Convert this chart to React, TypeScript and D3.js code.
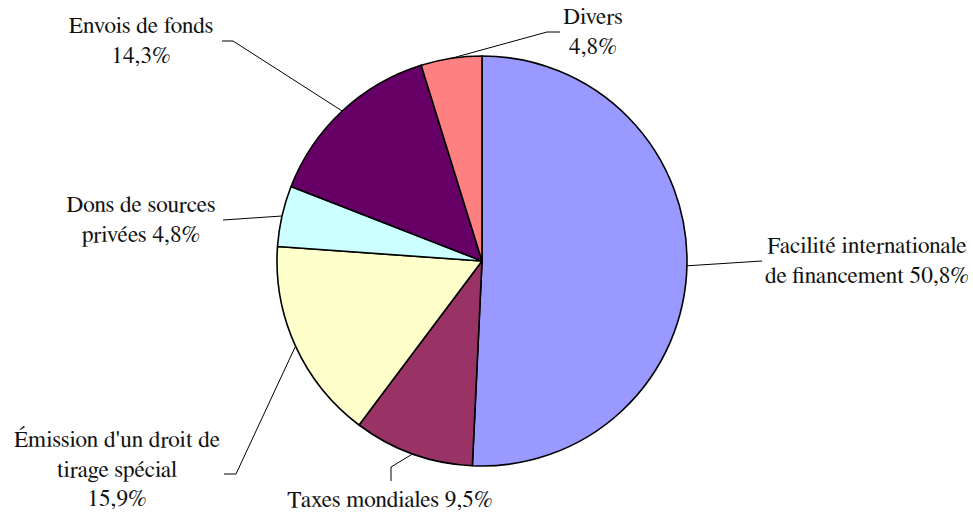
import React from "react";
import * as d3 from "d3";

const categories = [
  "Facilité internationale de financement",
  "Taxes mondiales",
  "Émission d'un droit de tirage spécial",
  "Dons de sources privées",
  "Envois de fonds",
  "Divers",
];
const values = [50.8, 9.5, 15.9, 4.8, 14.3, 4.8];
const valueLabels = ["50,8%", "9,5%", "15,9%", "4,8%", "14,3%", "4,8%"];
const colors = ["#9999FF", "#993366", "#FFFFCC", "#CCFFFF", "#660066", "#FF8080"];

// label text lines (with the percentage placed as in the reference)
const labelLines = [
  ["Facilité internationale", "de financement 50,8%"],
  ["Taxes mondiales 9,5%"],
  ["Émission d'un droit de", "tirage spécial", "15,9%"],
  ["Dons de sources", "privées 4,8%"],
  ["Envois de fonds", "14,3%"],
  ["Divers", "4,8%"],
];

// layout: label anchor (center x, first baseline y) and leader-line elbow points
const layout = [
  { x: 867, y: 253, pts: [[762, 261]] },
  { x: 390, y: 507, pts: [[391, 467], [391, 481]] },
  { x: 117, y: 447, pts: [[236, 474], [224, 474]] },
  { x: 141, y: 212, pts: [[223, 220]] },
  { x: 141, y: 33, pts: [[233, 41], [222, 41]] },
  { x: 593, y: 24, pts: [[547, 32], [560, 32]] },
];

const W = 973;
const H = 513;
const cx = 482;
const cy = 261;
const R = 205;
const lineH = 29.5;
const FONT = "FreeSerif";

export default function App() {
  const data = categories.map((c, i) => ({ name: c, value: values[i], idx: i }));
  const pie = d3
    .pie<any>()
    .sort(null)
    .value((d: any) => d.value);
  const arcs = pie(data);
  const arcGen = d3.arc<any>().innerRadius(0).outerRadius(R);

  return (
    <svg
      width={W}
      height={H}
      style={{ position: "absolute", left: 0, top: 0, background: "#fff" }}
    >
      <g transform={`translate(${cx},${cy})`}>
        {arcs.map((a, i) => (
          <path
            key={i}
            d={arcGen(a) as string}
            fill={colors[i]}
            stroke="#000"
            strokeWidth={1.6}
            strokeLinejoin="round"
          />
        ))}
      </g>
      {arcs.map((a, i) => {
        const mid = (a.startAngle + a.endAngle) / 2;
        const sx = cx + R * Math.sin(mid);
        const sy = cy - R * Math.cos(mid);
        const pts = [[sx, sy], ...layout[i].pts];
        const line = d3.line()(pts as [number, number][]);
        return (
          <path key={"l" + i} d={line as string} fill="none" stroke="#000" strokeWidth={1} />
        );
      })}
      {labelLines.map((lines, i) => (
        <text
          key={"t" + i}
          textAnchor="middle"
          fill="#111"
          style={{ fontFamily: FONT, fontSize: "23.3px" }}
        >
          {lines.map((ln, j) => (
            <tspan key={j} x={layout[i].x} y={layout[i].y + j * lineH}>
              {ln}
            </tspan>
          ))}
        </text>
      ))}
    </svg>
  );
}
